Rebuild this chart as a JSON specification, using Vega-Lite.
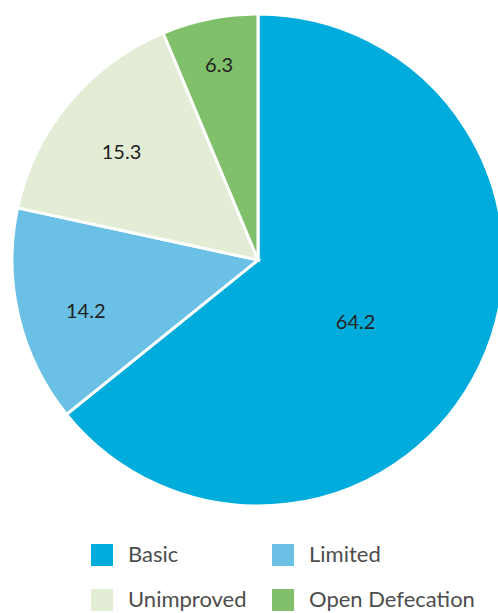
{
  "$schema": "https://vega.github.io/schema/vega-lite/v6.json",
  "width": 482,
  "height": 520,
  "autosize": {"type": "none"},
  "padding": {"left": 17, "top": 0, "right": 0, "bottom": 93},
  "background": "white",
  "config": {"view": {"stroke": null}},
  "data": {
    "values": [
      {"category": "Basic", "value": 64.2, "order": 1},
      {"category": "Limited", "value": 14.2, "order": 2},
      {"category": "Unimproved", "value": 15.3, "order": 3},
      {"category": "Open Defecation", "value": 6.3, "order": 4}
    ]
  },
  "encoding": {
    "theta": {"field": "value", "type": "quantitative", "stack": true},
    "order": {"field": "order", "type": "quantitative"}
  },
  "layer": [
    {
      "mark": {"type": "arc", "outerRadius": 246, "stroke": "white", "strokeWidth": 3},
      "encoding": {
        "color": {
          "field": "category",
          "type": "nominal",
          "sort": ["Basic", "Limited", "Unimproved", "Open Defecation"],
          "scale": {
            "domain": ["Basic", "Limited", "Unimproved", "Open Defecation"],
            "range": ["#00acdb", "#6bc1e5", "#e3edd6", "#80c06a"]
          },
          "legend": {
            "title": null,
            "orient": "none",
            "legendX": 74,
            "legendY": 544,
            "direction": "horizontal",
            "columns": 2,
            "symbolType": "square",
            "symbolSize": 484,
            "symbolStrokeWidth": 0,
            "labelFont": "Lato",
            "labelFontSize": 22,
            "labelColor": "#4d4d4d",
            "labelOffset": 15,
            "columnPadding": 25,
            "rowPadding": 23,
            "labelLimit": 300
          }
        }
      }
    },
    {
      "mark": {"type": "text", "radius": 117, "dx": -8, "dy": 13, "font": "Lato", "fontSize": 20, "fill": "#222222"},
      "encoding": {
        "text": {"field": "value", "type": "quantitative", "format": ".1f"},
        "opacity": {"condition": {"test": "datum.category === 'Basic'", "value": 1}, "value": 0}
      }
    },
    {
      "mark": {"type": "text", "radius": 177, "dy": 11, "font": "Lato", "fontSize": 20, "fill": "#222222"},
      "encoding": {
        "text": {"field": "value", "type": "quantitative", "format": ".1f"},
        "opacity": {"condition": {"test": "datum.category === 'Limited'", "value": 1}, "value": 0}
      }
    },
    {
      "mark": {"type": "text", "radius": 175, "dx": -2, "dy": 5, "font": "Lato", "fontSize": 20, "fill": "#222222"},
      "encoding": {
        "text": {"field": "value", "type": "quantitative", "format": ".1f"},
        "opacity": {"condition": {"test": "datum.category === 'Unimproved'", "value": 1}, "value": 0}
      }
    },
    {
      "mark": {"type": "text", "radius": 198, "font": "Lato", "fontSize": 20, "fill": "#222222"},
      "encoding": {
        "text": {"field": "value", "type": "quantitative", "format": ".1f"},
        "opacity": {"condition": {"test": "datum.category === 'Open Defecation'", "value": 1}, "value": 0}
      }
    }
  ]
}
